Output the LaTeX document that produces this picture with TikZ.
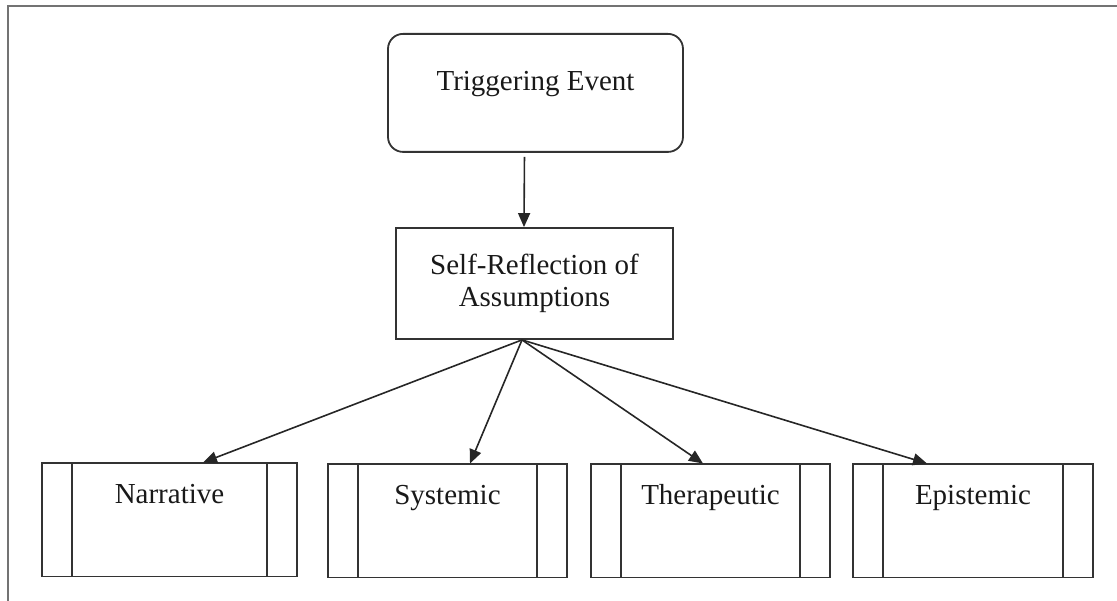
\documentclass[tikz,border=0pt]{standalone}
\usepackage{fontspec}
\setmainfont{Liberation Serif}
\usetikzlibrary{arrows.meta}
\begin{document}
\begin{tikzpicture}[x=1pt,y=-1pt,
  every node/.style={font=\fontsize{29}{33}\selectfont, text=black!90},
  frameline/.style={draw=black!55, line width=2pt},
  boxline/.style={draw=black!80, line width=1.8pt},
  roundbox/.style={boxline, rounded corners=15pt, inner sep=0pt, minimum width=295pt, text height=57pt, text depth=61pt},
  plainbox/.style={boxline, inner sep=0pt, minimum width=277pt, minimum height=111pt, align=center},
  predef/.style={boxline, inner sep=0pt, minimum width=#1, text height=40pt, text depth=73pt,
    path picture={
      \draw[black!80, line width=1.8pt]
        ([xshift=30pt]path picture bounding box.north west) -- ([xshift=30pt]path picture bounding box.south west)
        ([xshift=-30pt]path picture bounding box.north east) -- ([xshift=-30pt]path picture bounding box.south east);
    }},
  arr/.style={draw=black!85, line width=1.6pt, -{Triangle[length=14pt,width=12pt]}}
]
\useasboundingbox (0,0) rectangle (1117,601);
% frame
\coordinate (ftl) at (7.5,6);
\coordinate (ftr) at (1117,6);
\coordinate (fbl) at (7.5,601);
\draw[frameline] (ftr) -- (ftl) -- (fbl);

\node[roundbox, anchor=north] (trig) at (535.5,33) {Triggering Event};
\node[plainbox] (self) at (534.5,283.5) {Self-Reflection of\\[-1pt]Assumptions};

\node[predef=255pt, anchor=north] (nar) at (169.5,462.5) {Narrative};
\node[predef=239pt, anchor=north] (sys) at (447.5,463.5) {Systemic};
\node[predef=239pt, anchor=north] (ther) at (710.5,463.5) {Therapeutic};
\node[predef=240pt, anchor=north] (epi) at (973,463.5) {Epistemic};

\draw[arr, shorten <=4pt] ([xshift=-11pt]trig.south) -- ([xshift=-10.5pt]self.north);

\coordinate (src) at ([xshift=-12.5pt]self.south);
\draw[arr] (src) -- ([xshift=33.5pt]nar.north);
\draw[arr] (src) -- ([xshift=22.5pt]sys.north);
\draw[arr] (src) -- ([xshift=-7.5pt]ther.north);
\draw[arr] (src) -- ([xshift=-46pt]epi.north);
\end{tikzpicture}
\end{document}
